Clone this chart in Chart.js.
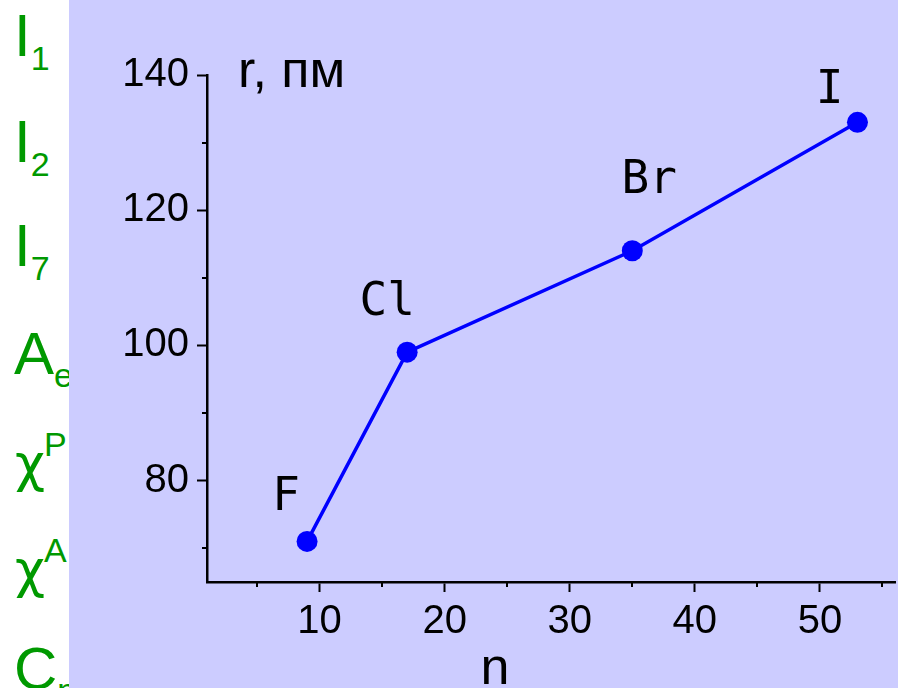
<!DOCTYPE html>
<html>
<head>
<meta charset="utf-8">
<script src="https://cdn.jsdelivr.net/npm/chart.js@4/dist/chart.umd.min.js"></script>
<style>
  body { margin: 0; background: #fff; width: 898px; height: 688px; overflow: hidden; position: relative; }
  #side { position: absolute; left: 0; top: 0; width: 69px; height: 688px; overflow: hidden; }
  .g { position: absolute; left: 14px; font: 60px/60px "Liberation Sans", Arial, sans-serif; color: #009900; white-space: nowrap; }
  .s { font-size: 34px; line-height: 0; position: relative; }
  .chi { font-family: "DejaVu Sans", sans-serif; font-size: 52px; line-height: 0; position: relative; left: 1px; }
  #wrap { position: absolute; left: 69px; top: 0; width: 829px; height: 688px; background: #ccccff; }
</style>
</head>
<body>
<div id="side">
  <div class="g" style="top:6px">I<span class="s" style="top:14px">1</span></div>
  <div class="g" style="top:112px">I<span class="s" style="top:14px">2</span></div>
  <div class="g" style="top:216px">I<span class="s" style="top:14px">7</span></div>
  <div class="g" style="top:324px">A<span class="s" style="top:13px">e</span></div>
  <div class="g" style="top:431px"><span class="chi">χ</span><span class="s" style="top:-25px">P</span></div>
  <div class="g" style="top:537px"><span class="chi">χ</span><span class="s" style="top:-25px">A</span></div>
  <div class="g" style="top:639px">C<span class="s" style="top:13px">p</span></div>
</div>
<div id="wrap"><canvas id="chart" width="829" height="688"></canvas></div>
<script>
// halogens: atomic number vs atomic radius
const elements = ['F', 'Cl', 'Br', 'I'];
const atomicNumbers = [9, 17, 35, 53];
const radiiPm = [71, 99, 114, 133];

const xTickValues = [5, 10, 15, 20, 25, 30, 35, 40, 45, 50, 55];
const xTickLabels = ['', '10', '', '20', '', '30', '', '40', '', '50', ''];
const yTickValues = [70, 80, 90, 100, 110, 120, 130, 140];
const yTickLabels = ['', '80', '', '100', '', '120', '', '140'];

const xTitle = 'n';
const yTitle = 'r, пм';

const isMajor = (vals, labels, v) => labels[vals.indexOf(v)] !== '';

const decor = {
    id: 'decor',
    afterDraw(chart, args, opts) {
        const ctx = chart.ctx;
        const area = chart.chartArea;
        const xs = chart.scales.x, ys = chart.scales.y;
        ctx.save();
        // minor ticks
        ctx.strokeStyle = '#000';
        ctx.lineWidth = 2;
        xTickValues.forEach((v, i) => {
            if (xTickLabels[i]) return;
            const px = Math.round(xs.getPixelForValue(v));
            ctx.beginPath();
            ctx.moveTo(px, area.bottom);
            ctx.lineTo(px, area.bottom + opts.minorLen);
            ctx.stroke();
        });
        yTickValues.forEach((v, i) => {
            if (yTickLabels[i]) return;
            const py = Math.round(ys.getPixelForValue(v));
            ctx.beginPath();
            ctx.moveTo(area.left, py);
            ctx.lineTo(area.left - opts.minorLen, py);
            ctx.stroke();
        });
        // element symbols next to points
        ctx.fillStyle = '#000';
        ctx.font = opts.labelFont;
        ctx.textAlign = 'center';
        ctx.textBaseline = 'alphabetic';
        chart.getDatasetMeta(0).data.forEach((p, i) => {
            const [dx, dy] = opts.offsets[i];
            ctx.fillText(elements[i], p.x + dx, p.y + dy);
        });
        // axis titles
        ctx.font = opts.titleFont;
        ctx.textAlign = 'left';
        ctx.fillText(yTitle, area.left + 31, area.top + 12);
        ctx.textAlign = 'center';
        ctx.fillText(xTitle, area.left + 288, area.bottom + 102);
        ctx.restore();
    }
};

const tickFont = { family: '"Liberation Sans", Arial, sans-serif', size: 40 };

new Chart(document.getElementById('chart'), {
    type: 'line',
    data: {
        datasets: [{
            data: atomicNumbers.map((n, i) => ({ x: n, y: radiiPm[i] })),
            borderColor: '#0000ff',
            backgroundColor: '#0000ff',
            borderWidth: 3.5,
            pointRadius: 10.5,
            pointBorderWidth: 0,
            tension: 0
        }]
    },
    options: {
        responsive: false,
        devicePixelRatio: 1,
        animation: false,
        layout: { padding: { top: 75, right: 3, left: 0, bottom: 0 }, autoPadding: false },
        plugins: {
            legend: { display: false },
            tooltip: { enabled: false },
            decor: {
                minorLen: 5,
                labelFont: '46px "DejaVu Sans Mono", monospace',
                titleFont: '52px "Liberation Sans", Arial, sans-serif',
                offsets: [[-21, -31], [-20, -37], [17, -58], [-28, -19]]
            }
        },
        scales: {
            x: {
                type: 'linear',
                min: 1,
                max: 56,
                afterFit: s => { s.height = 106; },
                afterBuildTicks: s => { s.ticks = xTickValues.map(v => ({ value: v })); },
                ticks: {
                    autoSkip: false,
                    maxRotation: 0,
                    padding: 6,
                    color: '#000',
                    font: tickFont,
                    callback: (v) => xTickLabels[xTickValues.indexOf(v)]
                },
                grid: {
                    drawOnChartArea: false,
                    drawTicks: true,
                    tickLength: 10,
                    tickWidth: 2,
                    tickColor: c => (c.tick && isMajor(xTickValues, xTickLabels, c.tick.value)) ? '#000' : 'rgba(0,0,0,0)'
                },
                border: { display: true, color: '#000', width: 2.5 }
            },
            y: {
                type: 'linear',
                min: 65,
                max: 140,
                afterFit: s => { s.width = 138; },
                afterBuildTicks: s => { s.ticks = yTickValues.map(v => ({ value: v })); },
                ticks: {
                    autoSkip: false,
                    padding: 8,
                    color: '#000',
                    font: tickFont,
                    callback: (v) => yTickLabels[yTickValues.indexOf(v)]
                },
                grid: {
                    drawOnChartArea: false,
                    drawTicks: true,
                    tickLength: 10,
                    tickWidth: 2,
                    tickColor: c => (c.tick && isMajor(yTickValues, yTickLabels, c.tick.value)) ? '#000' : 'rgba(0,0,0,0)'
                },
                border: { display: true, color: '#000', width: 2.5 }
            }
        }
    },
    plugins: [decor]
});
</script>
</body>
</html>
